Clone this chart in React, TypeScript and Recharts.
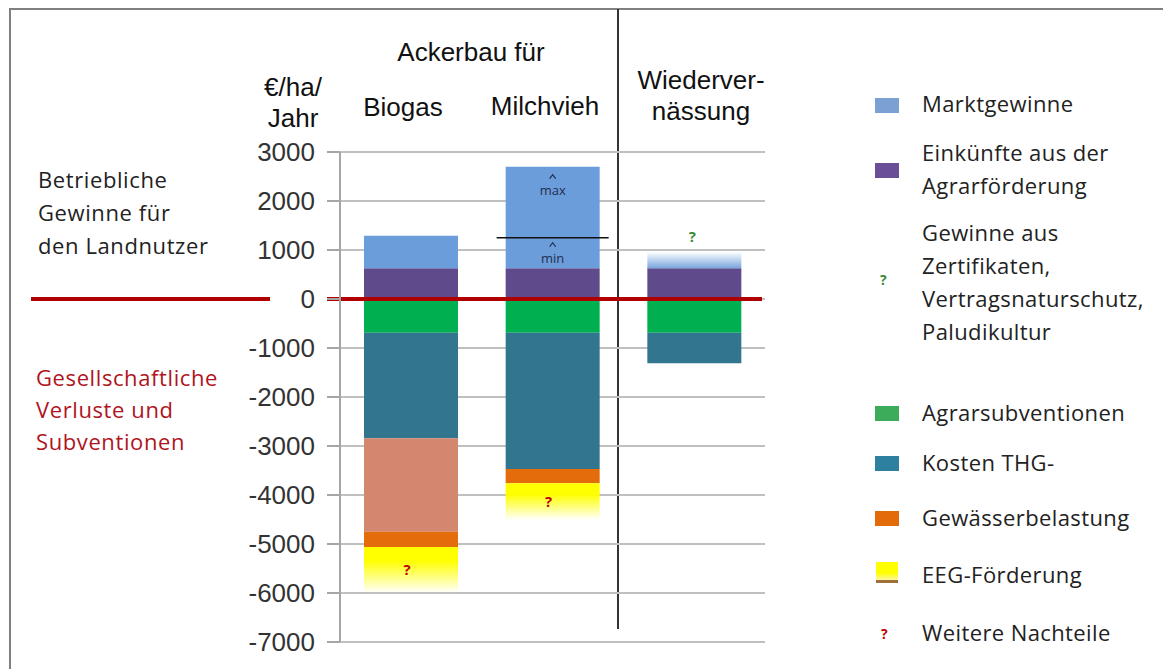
import React from "react";
import { BarChart, Bar, XAxis, YAxis, CartesianGrid, ReferenceLine, LabelList } from "recharts";

const categories = ["Biogas", "Milchvieh", "Wiedervernässung"];
const agrarfoerderung = [630, 630, 630];
const marktgewinne = [660, 620, 0];
const marktgewinneMax = [0, 1450, 0];
const zertifikate = [0, 0, 330];
const agrarsubventionen = [-690, -690, -690];
const kostenTHG = [-2150, -2780, -620];
const weitereKosten = [-1910, 0, 0];
const gewaesser = [-310, -290, 0];
const eegFoerderung = [-940, -750, 0];
const minNotes = ["", "min", ""];
const maxNotes = ["", "max", ""];
const eegNotes = ["?", "?", ""];
const zertNotes = ["", "", "?"];
const yTicks = [3000, 2000, 1000, 0, -1000, -2000, -3000, -4000, -5000, -6000, -7000];

const data = categories.map((name, i) => ({
  name,
  agrar: agrarfoerderung[i],
  markt: marktgewinne[i],
  marktMax: marktgewinneMax[i],
  zert: zertifikate[i],
  subv: agrarsubventionen[i],
  thg: kostenTHG[i],
  weitere: weitereKosten[i],
  gew: gewaesser[i],
  eeg: eegFoerderung[i],
  minNote: minNotes[i],
  maxNote: maxNotes[i],
  eegNote: eegNotes[i],
  zertNote: zertNotes[i],
}));

const C = {
  markt: "#6c9ddb",
  agrar: "#5f4a8b",
  subv: "#00b050",
  thg: "#31758f",
  weitere: "#d4876f",
  gew: "#e46c0a",
};

const calibri = "'Open Sans', 'Noto Sans', sans-serif";
const arial = "'Liberation Sans', Arial, sans-serif";

const Caret = ({ cx, y }: { cx: number; y: number }) => (
  <polyline points={`${cx - 3},${y + 4} ${cx},${y} ${cx + 3},${y + 4}`} fill="none" stroke="#1f2d50" strokeWidth={1.2} />
);

const MinLabel = (p: any) => {
  if (!p.value) return null;
  const top = Math.min(p.y, p.y + p.height);
  const cx = p.x + p.width / 2;
  return (
    <g>
      <line x1={p.x - 9} x2={p.x + p.width + 9} y1={top} y2={top} stroke="#111" strokeWidth={1.5} />
      <Caret cx={cx} y={top + 5} />
      <text x={cx} y={top + 25} textAnchor="middle" fontSize={13} fontFamily={calibri} fill="#1f2d50">{p.value}</text>
    </g>
  );
};

const MaxLabel = (p: any) => {
  if (!p.value) return null;
  const top = Math.min(p.y, p.y + p.height);
  const cx = p.x + p.width / 2;
  return (
    <g>
      <Caret cx={cx} y={top + 8} />
      <text x={cx} y={top + 28} textAnchor="middle" fontSize={13} fontFamily={calibri} fill="#1f2d50">{p.value}</text>
    </g>
  );
};

const EegLabel = (p: any) => {
  if (!p.value) return null;
  const cy = p.y + p.height / 2;
  return (
    <text x={p.x + p.width / 2 - 4} y={cy + 5} textAnchor="middle" fontSize={15} fontWeight="bold" fontFamily={calibri} fill="#c00000">
      {p.value}
    </text>
  );
};

const ZertLabel = (p: any) => {
  if (!p.value) return null;
  const top = Math.min(p.y, p.y + p.height);
  return (
    <text x={p.x + p.width / 2 - 2} y={top - 10} textAnchor="middle" fontSize={15} fontWeight="bold" fontFamily={calibri} fill="#3a8a3a">
      {p.value}
    </text>
  );
};

const ZeroLine = (p: any) => (
  <line x1={p.x1 - 13} x2={p.x2 - 3} y1={p.y1} y2={p.y2} stroke="#b00000" strokeWidth={4} />
);

const Swatch = ({ color }: { color: string }) => (
  <div style={{ position: "absolute", left: 875, width: 24, height: 15, background: color, marginTop: -7 }} />
);

const legendText: React.CSSProperties = {
  position: "absolute",
  left: 922,
  fontFamily: calibri,
  fontSize: 22,
  letterSpacing: 0.4,
  color: "#222",
  lineHeight: "33px",
  whiteSpace: "nowrap",
};

const header: React.CSSProperties = {
  position: "absolute",
  fontFamily: arial,
  fontSize: 26,
  color: "#111",
  transform: "translate(-50%, -50%)",
  whiteSpace: "nowrap",
  textAlign: "center",
  lineHeight: "31px",
};

export default function App() {
  return (
    <div style={{ position: "absolute", left: 0, top: 0, width: 1163, height: 669, background: "#fff", overflow: "hidden" }}>
      <div style={{ position: "absolute", left: 9, top: 8, width: 1154, height: 2, background: "#808080" }} />
      <div style={{ position: "absolute", left: 9, top: 8, width: 2, height: 661, background: "#808080" }} />
      <div style={{ position: "absolute", left: 617, top: 9, width: 2, height: 620, background: "#333" }} />
      <div style={{ position: "absolute", left: 31, top: 297, width: 239, height: 4, background: "#b00000" }} />

      <div style={{ position: "absolute", left: 0, top: 0 }}>
        <BarChart
          width={1163}
          height={669}
          data={data}
          stackOffset="sign"
          barSize={94}
          margin={{ top: 152, right: 398, bottom: 27, left: 0 }}
        >
          <defs>
            <linearGradient id="eegGrad" x1="0" y1="0" x2="0" y2="1">
              <stop offset="0" stopColor="#ffff00" stopOpacity={1} />
              <stop offset="0.3" stopColor="#ffff00" stopOpacity={1} />
              <stop offset="1" stopColor="#ffff00" stopOpacity={0} />
            </linearGradient>
            <linearGradient id="zertGrad" x1="0" y1="0" x2="0" y2="1">
              <stop offset="0" stopColor="#ffffff" stopOpacity={1} />
              <stop offset="0.3" stopColor="#d6e4f5" stopOpacity={1} />
              <stop offset="1" stopColor="#7aa6de" stopOpacity={1} />
            </linearGradient>
          </defs>
          <CartesianGrid vertical={false} stroke="#c0c0c0" strokeWidth={2} />
          <XAxis dataKey="name" hide />
          <YAxis
            width={340}
            domain={[-7000, 3000]}
            ticks={yTicks}
            interval={0}
            tickSize={13}
            tickMargin={12}
            axisLine={{ stroke: "#a6a6a6", strokeWidth: 2 }}
            tickLine={{ stroke: "#a6a6a6", strokeWidth: 2 }}
            tick={{ fontSize: 26, fontFamily: arial, fill: "#333" }}
          />
          <Bar dataKey="agrar" stackId="s" fill={C.agrar} isAnimationActive={false} />
          <Bar dataKey="markt" stackId="s" fill={C.markt} isAnimationActive={false}>
            <LabelList dataKey="minNote" content={MinLabel} />
          </Bar>
          <Bar dataKey="marktMax" stackId="s" fill={C.markt} isAnimationActive={false}>
            <LabelList dataKey="maxNote" content={MaxLabel} />
          </Bar>
          <Bar dataKey="zert" stackId="s" fill="url(#zertGrad)" isAnimationActive={false}>
            <LabelList dataKey="zertNote" content={ZertLabel} />
          </Bar>
          <Bar dataKey="subv" stackId="s" fill={C.subv} isAnimationActive={false} />
          <Bar dataKey="thg" stackId="s" fill={C.thg} isAnimationActive={false} />
          <Bar dataKey="weitere" stackId="s" fill={C.weitere} isAnimationActive={false} />
          <Bar dataKey="gew" stackId="s" fill={C.gew} isAnimationActive={false} />
          <Bar dataKey="eeg" stackId="s" fill="url(#eegGrad)" isAnimationActive={false}>
            <LabelList dataKey="eegNote" content={EegLabel} />
          </Bar>
          <ReferenceLine y={0} shape={ZeroLine} ifOverflow="visible" />
        </BarChart>
      </div>

      {/* headers */}
      <div style={{ ...header, left: 471, top: 52 }}>Ackerbau für</div>
      <div style={{ ...header, left: 293, top: 103 }}>€/ha/<br />Jahr</div>
      <div style={{ ...header, left: 403, top: 107 }}>Biogas</div>
      <div style={{ ...header, left: 545, top: 106 }}>Milchvieh</div>
      <div style={{ ...header, left: 701, top: 96 }}>Wiederver-<br />nässung</div>

      {/* left annotations */}
      <div style={{ position: "absolute", left: 38, top: 163, fontFamily: calibri, fontSize: 22, letterSpacing: 0.6, lineHeight: "33px", color: "#222", whiteSpace: "nowrap" }}>
        Betriebliche<br />Gewinne für<br />den Landnutzer
      </div>
      <div style={{ position: "absolute", left: 36, top: 361, fontFamily: calibri, fontSize: 22, letterSpacing: 0.6, lineHeight: "32px", color: "#b0141e", whiteSpace: "nowrap" }}>
        Gesellschaftliche<br />Verluste und<br />Subventionen
      </div>

      {/* legend */}
      <div style={{ position: "absolute", top: 105 }}><Swatch color="#7ba0d4" /></div>
      <div style={{ ...legendText, top: 87 }}>Marktgewinne</div>

      <div style={{ position: "absolute", top: 170 }}><Swatch color="#6a4e96" /></div>
      <div style={{ ...legendText, top: 136 }}>Einkünfte aus der<br />Agrarförderung</div>

      <div style={{ position: "absolute", left: 880, top: 270, fontFamily: calibri, fontSize: 14, fontWeight: "bold", color: "#3a8a3a" }}>?</div>
      <div style={{ ...legendText, top: 216 }}>Gewinne aus<br />Zertifikaten,<br />Vertragsnaturschutz,<br />Paludikultur</div>

      <div style={{ position: "absolute", top: 413 }}><Swatch color="#3cab5a" /></div>
      <div style={{ ...legendText, top: 396 }}>Agrarsubventionen</div>

      <div style={{ position: "absolute", top: 463 }}><Swatch color="#2e80a0" /></div>
      <div style={{ ...legendText, top: 446 }}>Kosten THG-</div>

      <div style={{ position: "absolute", top: 518 }}><Swatch color="#e36c0a" /></div>
      <div style={{ ...legendText, top: 501 }}>Gewässerbelastung</div>

      <div style={{ position: "absolute", left: 876, top: 562, width: 22, height: 18, background: "linear-gradient(#ffff00 60%, #fff7a0)" }} />
      <div style={{ position: "absolute", left: 876, top: 580, width: 22, height: 3, background: "#a0703a" }} />
      <div style={{ ...legendText, top: 558 }}>EEG-Förderung</div>

      <div style={{ position: "absolute", left: 881, top: 624, fontFamily: calibri, fontSize: 14, fontWeight: "bold", color: "#c00000" }}>?</div>
      <div style={{ ...legendText, top: 616 }}>Weitere Nachteile</div>
    </div>
  );
}
